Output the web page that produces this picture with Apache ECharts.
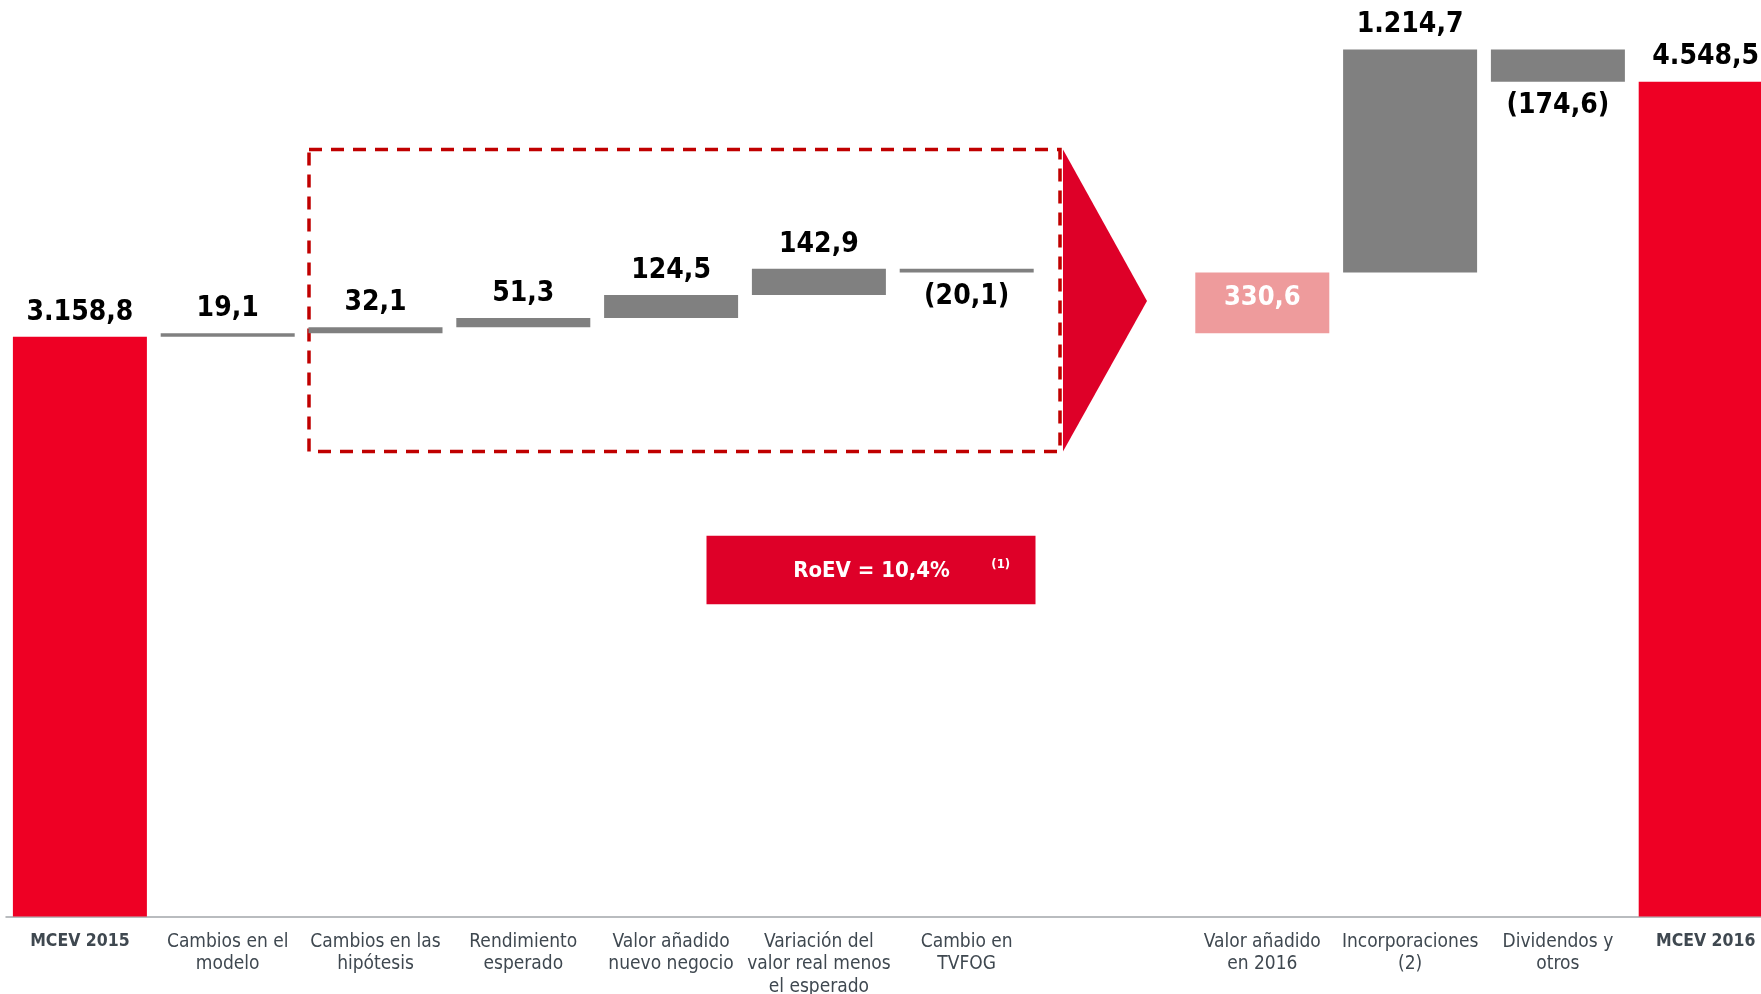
<!DOCTYPE html>
<html><head><meta charset="utf-8">
<script src="https://cdn.jsdelivr.net/npm/echarts@6/dist/echarts.min.js"></script>
<style>html,body{margin:0;padding:0;background:#fff;overflow:hidden}#c{width:1761px;height:994px}</style>
</head><body><div id="c"></div>
<script>
// ---- data ----
const categories = ['MCEV 2015','Cambios en el\nmodelo','Cambios en las\nhipótesis','Rendimiento\nesperado','Valor añadido\nnuevo negocio','Variación del\nvalor real menos\nel esperado','Cambio en\nTVFOG','','Valor añadido\nen 2016','Incorporaciones\n(2)','Dividendos y\notros','MCEV 2016'];
const values = [3158.8, 19.1, 32.1, 51.3, 124.5, 142.9, -20.1, null, 330.6, 1214.7, -174.6, 4548.5];
const kinds = ['total','delta','delta','delta','delta','delta','delta','gap','subtotal','delta','delta','total'];
const groupStart = 2; // first item inside the dashed box (summed by the subtotal)
const roevText = 'RoEV = 10,4%';
const roevNote = '(1)';

// ---- waterfall bases ----
const bases = [], heights = [];
let running = 0, groupBase = 0;
values.forEach((v, i) => {
  if (i === groupStart) groupBase = running;
  const k = kinds[i];
  if (k === 'total') { bases.push(0); heights.push(v); running = v; }
  else if (k === 'delta') {
    if (v >= 0) { bases.push(running); heights.push(v); running += v; }
    else { running += v; bases.push(running); heights.push(-v); }
  } else if (k === 'subtotal') { bases.push(groupBase); heights.push(v); running = groupBase + v; }
  else { bases.push(null); heights.push(null); }
});

function fmt(v) {
  const a = Math.abs(v).toFixed(1).split('.');
  const int = a[0].replace(/\B(?=(\d{3})+(?!\d))/g, '.');
  const s = int + ',' + a[1];
  return v < 0 ? '(' + s + ')' : s;
}

const colors = { total: '#EE0024', delta: '#808080', subtotal: '#EE9B9C' };
const FONT = "'DejaVu Sans Condensed', 'DejaVu Sans', sans-serif";

const barData = heights.map((h, i) => {
  if (h == null) return null;
  const k = kinds[i], v = values[i];
  let label;
  if (k === 'subtotal') label = { show: true, position: 'inside', offset: [0, -5], color: '#fff', fontSize: 27, fontWeight: 'bold', fontFamily: FONT };
  else if (v < 0) label = { show: true, position: 'bottom', distance: 10, color: '#000', fontSize: 28, fontWeight: 'bold', fontFamily: FONT };
  else label = { show: true, position: 'top', distance: 10.5, color: '#000', fontSize: 28, fontWeight: 'bold', fontFamily: FONT };
  label.formatter = () => fmt(v);
  return { value: h, itemStyle: { color: colors[k] }, label };
});

const chart = echarts.init(document.getElementById('c'), null, { renderer: 'canvas' });
chart.setOption({
  animation: false,
  backgroundColor: '#fff',
  grid: { left: 6, right: -18.6, top: 35.5, bottom: 77.5, containLabel: false, outerBoundsMode: 'none' },
  xAxis: {
    type: 'category', data: categories,
    axisTick: { show: false },
    axisLine: { lineStyle: { color: '#A3A7AB', width: 1.5 } },
    axisLabel: {
      interval: 0, fontSize: 19, lineHeight: 22.5, color: '#3F4850', fontFamily: FONT, margin: 14,
      formatter: (val, idx) => kinds[idx] === 'total' ? '{b|' + val + '}' : val,
      rich: { b: { fontWeight: 'bold', fontSize: 17.5, lineHeight: 22.5, color: '#3F4850', fontFamily: FONT } }
    }
  },
  yAxis: { type: 'value', min: 0, max: 4800, show: false, splitLine: { show: false } },
  series: [
    { type: 'bar', stack: 'w', data: bases, barWidth: 134, itemStyle: { color: 'transparent' }, silent: true },
    { type: 'bar', stack: 'w', data: barData, barWidth: 134 }
  ],
  graphic: [
    { type: 'rect', shape: { x: 309, y: 149.5, width: 751, height: 302 },
      style: { fill: 'none', stroke: '#C00000', lineWidth: 3.5, lineDash: [13, 9] } },
    { type: 'polygon', shape: { points: [[1063, 149.5], [1147, 301], [1063, 451.5]] }, style: { fill: '#DE0028' } },
    { type: 'rect', shape: { x: 706.5, y: 535.7, width: 329, height: 68.5 }, style: { fill: '#DE0028' } },
    { type: 'text', x: 871.5, y: 571.5, style: { text: roevText, fill: '#fff', font: "bold 22px " + FONT, textAlign: 'center', textVerticalAlign: 'middle' } },
    { type: 'text', x: 1000.7, y: 565, style: { text: roevNote, fill: '#fff', font: "bold 13px " + FONT, textAlign: 'center', textVerticalAlign: 'middle' } }
  ]
});
</script>
</body></html>
